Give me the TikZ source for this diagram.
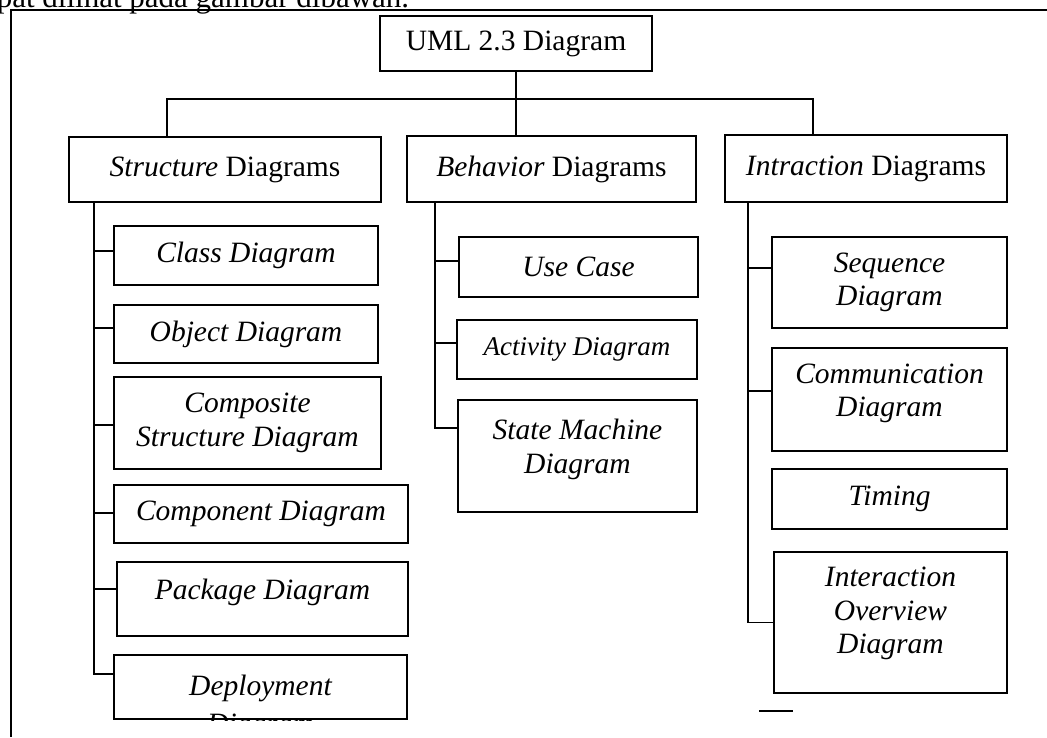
\documentclass[tikz,border=0pt]{standalone}
\usepackage{fontspec}
\setmainfont{Liberation Serif}
\usetikzlibrary{calc}
\begin{document}
\begin{tikzpicture}[x=1pt,y=-1pt,
  line width=1.6pt,
  box/.style={draw, rectangle, inner sep=0pt, align=center,
              font=\fontsize{29.5}{33.5}\selectfont},
  sub/.style={box, font=\fontsize{29.5}{33.5}\selectfont\itshape},
  lbl/.style={align=center, inner sep=0pt,
              font=\fontsize{29.5}{33.5}\selectfont\itshape},
  link/.style={draw, line width=1.6pt},
]
\clip (0,0) rectangle (1047,737);

% running text above the figure frame
\node[anchor=base west, inner sep=0pt, font=\fontsize{31}{36}\selectfont]
  (intro) at (-4,7) {pat dilihat pada gambar dibawah.};

% frame around the figure
\draw (11,737) -- (11,10) -- (1047,10);

% root and the three categories
\node[box, minimum width=272pt, minimum height=55pt] (root) at (516,43.5) {UML 2.3 Diagram};
\node[box, minimum width=312pt, minimum height=65pt] (struct) at (225,169.5) {\textit{Structure} Diagrams};
\node[box, minimum width=289pt, minimum height=66pt] (behav) at (551.5,169) {\textit{Behavior} Diagrams};
\node[box, minimum width=282pt, minimum height=67pt] (inter) at (866,168.5) {\textit{Intraction} Diagrams};

% structure diagrams
\node[sub, minimum width=264pt, minimum height=59pt] (class) at (246,255.5) {Class Diagram};
\node[sub, minimum width=264pt, minimum height=58pt] (object) at (246,334) {Object Diagram};
\node[sub, minimum width=267pt, minimum height=92pt] (composite) at (247.5,423) {Composite\\Structure Diagram};
\node[sub, minimum width=294pt, minimum height=58pt] (component) at (261,514) {Component Diagram};
\node[box, minimum width=291pt, minimum height=74pt,
      label={[lbl,yshift=7pt]center:Package Diagram}] (package) at (262.5,599) {};
\begin{scope}
  % the second line runs past the bottom edge of the box and is cut there
  \clip (113,654) rectangle (408,720);
  \node[box, minimum width=293pt, minimum height=64pt,
        label={[lbl,font=\fontsize{29.5}{38}\selectfont\itshape,yshift=-20pt]center:{Deployment\\Diagram}}]
        (deploy) at (260.5,687) {};
\end{scope}

% behavior diagrams
\node[sub, minimum width=239pt, minimum height=60pt] (usecase) at (578.5,267) {Use Case};
\node[sub, minimum width=240pt, minimum height=59pt,
      font=\fontsize{27}{31}\selectfont\itshape] (activity) at (577,349.5) {Activity Diagram};
\node[box, minimum width=239pt, minimum height=112pt,
      label={[lbl,yshift=6.5pt]center:{State Machine\\Diagram}}] (state) at (577.5,456) {};

% interaction diagrams
\node[sub, minimum width=235pt, minimum height=91pt] (sequence) at (889.5,282.5) {Sequence\\Diagram};
\node[box, minimum width=235pt, minimum height=103pt,
      label={[lbl,yshift=6pt]center:{Communication\\Diagram}}] (comm) at (889.5,399.5) {};
\node[sub, minimum width=235pt, minimum height=60pt] (timing) at (889.5,499) {Timing};
\node[box, minimum width=233pt, minimum height=141pt,
      label={[lbl,yshift=9pt]center:{Interaction\\Overview\\Diagram}}] (overview) at (890.5,622.5) {};

% top-level bus
\coordinate (busL) at (167,99);
\coordinate (busR) at (813,99);
\draw[link] (root.south) -- (root.south |- busL);
\draw[link] (busL |- struct.north) -- (busL) -- (busR) -- (busR |- inter.north);
\draw[link] (root.south |- busL) -- (root.south |- behav.north);

% spines of the three columns
\coordinate (sA) at (94,0);
\coordinate (sB) at (435,0);
\coordinate (sC) at (748,0);

\draw[link] (sA |- struct.south) |- ([yshift=13pt]deploy.west);
\path ([yshift=4.5pt]class.west) coordinate (tClass)
      ([yshift=6pt]object.west) coordinate (tObject)
      ([yshift=-2pt]composite.west) coordinate (tComposite)
      ([yshift=1pt]component.west) coordinate (tComponent)
      ([yshift=10pt,xshift=2pt]package.west) coordinate (tPackage);
\foreach \t in {tClass,tObject,tComposite,tComponent,tPackage}
  \draw[link] (sA |- \t) -- (\t);

\draw[link] (sB |- behav.south) |- ([yshift=28pt]state.west);
\path ([yshift=6pt]usecase.west) coordinate (tUse)
      ([yshift=6.5pt]activity.west) coordinate (tAct);
\foreach \t in {tUse,tAct}
  \draw[link] (sB |- \t) -- (\t);

\draw[link] (sC |- inter.south) |- (overview.west);
\path ([yshift=14.5pt]sequence.west) coordinate (tSeq)
      ([yshift=8.5pt]comm.west) coordinate (tComm);
\foreach \t in {tSeq,tComm}
  \draw[link] (sC |- \t) -- (\t);

% loose dash below the last box
\draw (759,711) -- (793,711);
\end{tikzpicture}
\end{document}
